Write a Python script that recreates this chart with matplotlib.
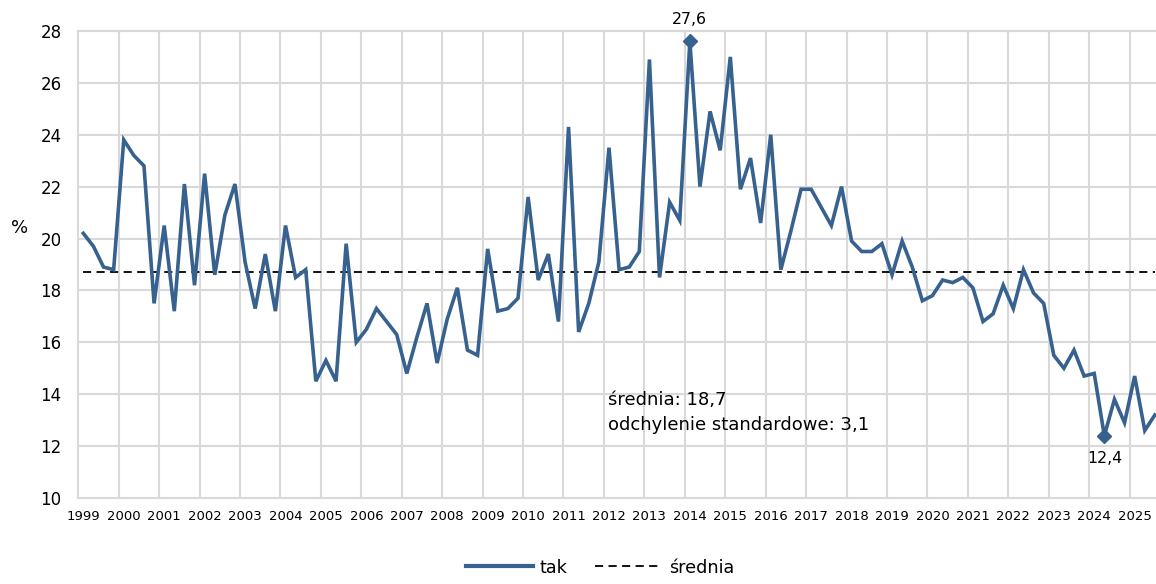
import numpy as np
import matplotlib
matplotlib.use("Agg")
import matplotlib.pyplot as plt

# quarterly values, 1999Q1 .. 2025Q3
years = list(range(1999, 2026))
tak = [20.2, 19.7, 18.9, 18.8, 23.8, 23.2, 22.8, 17.5, 20.5, 17.2,
       22.1, 18.2, 22.5, 18.6, 20.9, 22.1, 19.1, 17.3, 19.4, 17.2,
       20.5, 18.5, 18.8, 14.5, 15.3, 14.5, 19.8, 16.0, 16.5, 17.3,
       16.8, 16.3, 14.8, 16.2, 17.5, 15.2, 16.9, 18.1, 15.7, 15.5,
       19.6, 17.2, 17.3, 17.7, 21.6, 18.4, 19.4, 16.8, 24.3, 16.4,
       17.5, 19.1, 23.5, 18.8, 18.9, 19.5, 26.9, 18.5, 21.4, 20.7,
       27.6, 22.0, 24.9, 23.4, 27.0, 21.9, 23.1, 20.6, 24.0, 18.8,
       20.3, 21.9, 21.9, 21.2, 20.5, 22.0, 19.9, 19.5, 19.5, 19.8,
       18.6, 19.9, 18.9, 17.6, 17.8, 18.4, 18.3, 18.5, 18.1, 16.8,
       17.1, 18.2, 17.3, 18.8, 17.9, 17.5, 15.5, 15.0, 15.7, 14.7,
       14.8, 12.4, 13.8, 12.9, 14.7, 12.6, 13.2]
MEAN = 18.7
STD = 3.1

BLUE = "#37618f"
GRID = "#d9d9d9"

x = np.arange(len(tak))
fig = plt.figure(figsize=(11.56, 5.84), dpi=100)
ax = fig.add_axes([0.0677, 0.1473, 0.9357, 0.7997])

ax.plot(x, tak, color=BLUE, lw=2.6, solid_joinstyle="miter", zorder=3)
ax.plot(x, [MEAN] * len(x), color="black", lw=1.3, ls=(0, (4.5, 3)), zorder=2)

imax, imin = int(np.argmax(tak)), int(np.argmin(tak))
for i, off, va in [(imax, 10, "bottom"), (imin, -11, "top")]:
    ax.plot(x[i], tak[i], marker="D", ms=7.5, color=BLUE, zorder=4)
    ax.annotate(f"{tak[i]:.1f}".replace(".", ","), (x[i], tak[i]),
                xytext=(0, off), textcoords="offset points",
                ha="center", va=va, fontsize=11.3, annotation_clip=False)

ax.text(51.9, 13.3, f"średnia: {MEAN:.1f}".replace(".", ",") + "\n"
        + f"odchylenie standardowe: {STD:.1f}".replace(".", ","),
        fontsize=13, ha="left", va="center", linespacing=1.5)

ax.set_xlim(-0.5, len(tak) - 0.5)
ax.set_ylim(10, 28)
ax.set_yticks(np.arange(10, 29, 2))
ax.set_xticks([4 * k for k in range(len(years))])
ax.set_xticklabels([str(y) for y in years], fontsize=9.5)
ax.set_xticks([4 * k - 0.5 for k in range(1, len(years))], minor=True)
ax.tick_params(axis="both", which="both", length=0)
ax.tick_params(axis="y", labelsize=12, pad=12)
ax.tick_params(axis="x", pad=9)
ax.grid(axis="y", color=GRID, lw=1.5)
ax.grid(axis="x", which="minor", color=GRID, lw=1.5)
for s in ["left", "bottom", "top"]:
    ax.spines[s].set_color(GRID)
    ax.spines[s].set_linewidth(1.5)
ax.spines["right"].set_visible(False)

fig.text(0.017, 0.61, "%", fontsize=13, ha="center", va="center")

h1, = ax.plot([], [], color=BLUE, lw=3)
h2, = ax.plot([], [], color="black", lw=1.3, ls=(0, (4.5, 3)))
fig.legend([h1, h2], ["tak", "średnia"], loc="center", bbox_to_anchor=(0.519, 0.028),
           ncol=2, frameon=False, fontsize=12.7, handlelength=3.8,
           handletextpad=0.35, columnspacing=1.6)

fig.savefig("out.png", dpi=100)
